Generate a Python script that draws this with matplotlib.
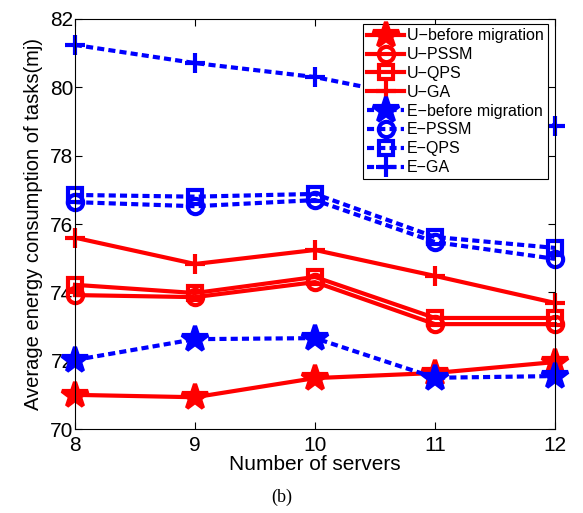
import matplotlib
matplotlib.use('Agg')
import matplotlib.pyplot as plt

plt.rcParams['font.family'] = ['Liberation Sans', 'DejaVu Sans']

servers = [8, 9, 10, 11, 12]

u_before = [71.0, 70.93, 71.49, 71.64, 71.96]
u_pssm = [73.92, 73.86, 74.30, 73.07, 73.07]
u_qps = [74.22, 73.98, 74.45, 73.25, 73.25]
u_ga = [75.60, 74.83, 75.24, 74.48, 73.69]
e_before = [72.02, 72.63, 72.66, 71.50, 71.55]
e_pssm = [76.64, 76.52, 76.70, 75.47, 74.98]
e_qps = [76.85, 76.80, 76.88, 75.62, 75.30]
e_ga = [81.24, 80.71, 80.30, 79.60, 78.87]

labels = ['U\u2212before migration', 'U\u2212PSSM', 'U\u2212QPS', 'U\u2212GA',
          'E\u2212before migration', 'E\u2212PSSM', 'E\u2212QPS', 'E\u2212GA']

fig = plt.figure(figsize=(5.83, 5.13), dpi=100)
ax = fig.add_axes([0.1286, 0.1637, 0.8234, 0.7993])

red = '#ff0000'
blue = '#0000ff'
dots = (1.7, 1.0)

series = [
    (u_before, red, '*', 19, '-'),
    (u_pssm, red, 'o', 11, '-'),
    (u_qps, red, 's', 10, '-'),
    (u_ga, red, '+', 14, '-'),
    (e_before, blue, '*', 19, ':'),
    (e_pssm, blue, 'o', 11, ':'),
    (e_qps, blue, 's', 10, ':'),
    (e_ga, blue, '+', 14, ':'),
]

for (vals, col, mk, ms, ls), lab in zip(series, labels):
    line, = ax.plot(servers, vals, color=col, marker=mk, markersize=ms,
                    linewidth=3, markeredgewidth=3, label=lab,
                    markerfacecolor=col if mk == '*' else 'none',
                    clip_on=False)
    if ls == ':':
        line.set_dashes(dots)

ax.set_xlim(8, 12)
ax.set_ylim(70, 82)
ax.set_xticks(servers)
ax.set_yticks(range(70, 83, 2))
ax.tick_params(direction='in', top=True, right=True, labelsize=15, length=5, pad=1)
ax.tick_params(axis='x', pad=5)
for s in ax.spines.values():
    s.set_linewidth(0.8)

ax.set_xlabel('Number of servers', fontsize=15, labelpad=0)
ax.set_ylabel('Average energy consumption of tasks(mj)', fontsize=14.5)
ax.yaxis.set_label_coords(-0.067, 0.5)

leg = ax.legend(loc='upper right', bbox_to_anchor=(0.985, 0.987), fontsize=11.5,
                handlelength=2.3, labelspacing=0.24, borderpad=0.25,
                handletextpad=0.2, fancybox=False, framealpha=1,
                edgecolor='black', borderaxespad=0)
leg.get_frame().set_linewidth(0.8)

fig.text(0.483, 0.022, '(b)', fontsize=13, family='Liberation Serif', ha='center')

fig.savefig('out.png', dpi=100)
